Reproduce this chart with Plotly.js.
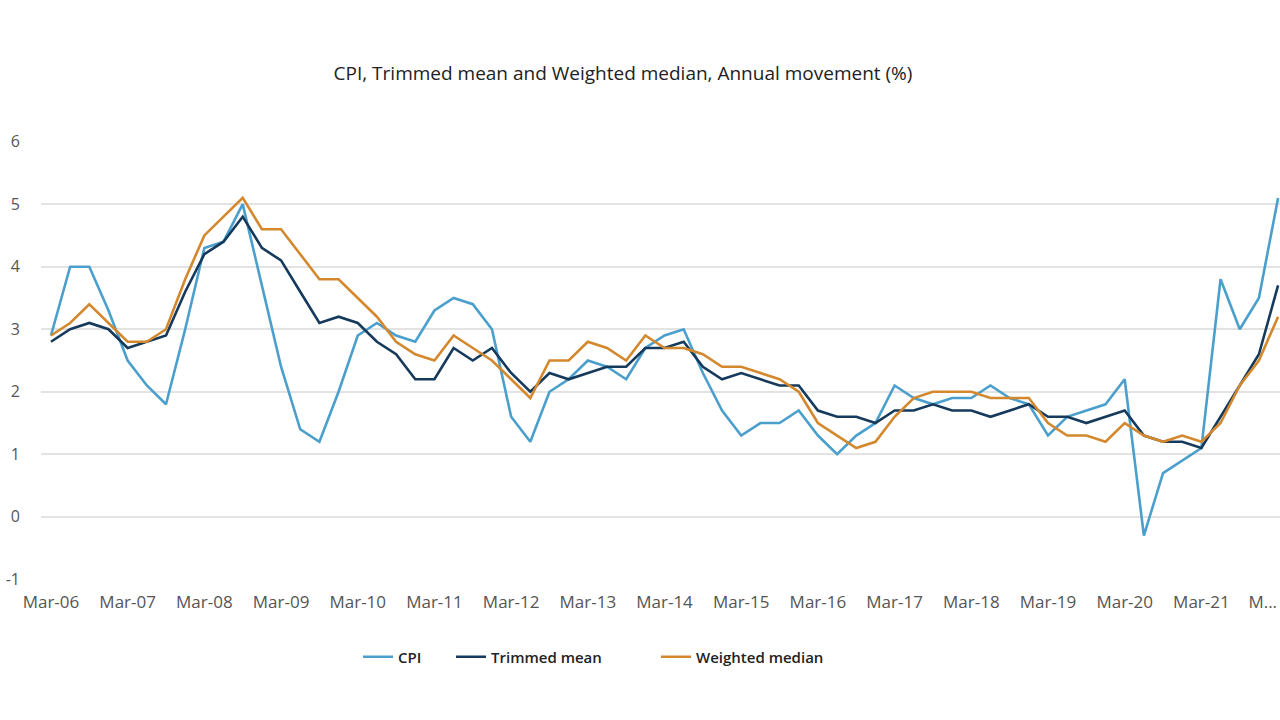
<!DOCTYPE html>
<html>
<head>
<meta charset="utf-8">
<script src="https://cdn.plot.ly/plotly-3.0.1.min.js"></script>
<style>html,body{margin:0;padding:0;background:#fff;}#chart{width:1280px;height:720px;}</style>
</head>
<body>
<div id="chart"></div>
<script>
// Quarters Mar-06 .. Mar-22
const quarters = [
  "Mar-06","Jun-06","Sep-06","Dec-06","Mar-07","Jun-07","Sep-07","Dec-07",
  "Mar-08","Jun-08","Sep-08","Dec-08","Mar-09","Jun-09","Sep-09","Dec-09",
  "Mar-10","Jun-10","Sep-10","Dec-10","Mar-11","Jun-11","Sep-11","Dec-11",
  "Mar-12","Jun-12","Sep-12","Dec-12","Mar-13","Jun-13","Sep-13","Dec-13",
  "Mar-14","Jun-14","Sep-14","Dec-14","Mar-15","Jun-15","Sep-15","Dec-15",
  "Mar-16","Jun-16","Sep-16","Dec-16","Mar-17","Jun-17","Sep-17","Dec-17",
  "Mar-18","Jun-18","Sep-18","Dec-18","Mar-19","Jun-19","Sep-19","Dec-19",
  "Mar-20","Jun-20","Sep-20","Dec-20","Mar-21","Jun-21","Sep-21","Dec-21",
  "Mar-22"
];
const cpi = [
  2.9,4.0,4.0,3.3,2.5,2.1,1.8,3.0,
  4.3,4.4,5.0,3.7,2.4,1.4,1.2,2.0,
  2.9,3.1,2.9,2.8,3.3,3.5,3.4,3.0,
  1.6,1.2,2.0,2.2,2.5,2.4,2.2,2.7,
  2.9,3.0,2.3,1.7,1.3,1.5,1.5,1.7,
  1.3,1.0,1.3,1.5,2.1,1.9,1.8,1.9,
  1.9,2.1,1.9,1.8,1.3,1.6,1.7,1.8,
  2.2,-0.3,0.7,0.9,1.1,3.8,3.0,3.5,
  5.1
];
const trimmedMean = [
  2.8,3.0,3.1,3.0,2.7,2.8,2.9,3.6,
  4.2,4.4,4.8,4.3,4.1,3.6,3.1,3.2,
  3.1,2.8,2.6,2.2,2.2,2.7,2.5,2.7,
  2.3,2.0,2.3,2.2,2.3,2.4,2.4,2.7,
  2.7,2.8,2.4,2.2,2.3,2.2,2.1,2.1,
  1.7,1.6,1.6,1.5,1.7,1.7,1.8,1.7,
  1.7,1.6,1.7,1.8,1.6,1.6,1.5,1.6,
  1.7,1.3,1.2,1.2,1.1,1.6,2.1,2.6,
  3.7
];
const weightedMedian = [
  2.9,3.1,3.4,3.1,2.8,2.8,3.0,3.8,
  4.5,4.8,5.1,4.6,4.6,4.2,3.8,3.8,
  3.5,3.2,2.8,2.6,2.5,2.9,2.7,2.5,
  2.2,1.9,2.5,2.5,2.8,2.7,2.5,2.9,
  2.7,2.7,2.6,2.4,2.4,2.3,2.2,2.0,
  1.5,1.3,1.1,1.2,1.6,1.9,2.0,2.0,
  2.0,1.9,1.9,1.9,1.5,1.3,1.3,1.2,
  1.5,1.3,1.2,1.3,1.2,1.5,2.1,2.5,
  3.2
];
const seriesNames = ["CPI","Trimmed mean","Weighted median"];
const seriesColors = ["#4a9fcc","#163a5c","#d4882e"];
const yTicks = [-1,0,1,2,3,4,5,6];
const yTickText = ["-1","0","1","2","3","4","5","6"];

const idx = quarters.map((q,i)=>i);
const tickVals = [], tickText = [];
quarters.forEach((q,i)=>{ if (i%4===0 && i<64){ tickVals.push(i); tickText.push(q); } });
tickVals.push(63.2); tickText.push("M...");

const FONT = "Open Sans, Noto Sans, sans-serif";
const data = [cpi, trimmedMean, weightedMedian].map((vals,k)=>({
  type:"scatter", mode:"lines", x: idx, y: vals, name: seriesNames[k],
  line:{color: seriesColors[k], width:2.6},
  legend: k===0 ? "legend" : (k===1 ? "legend2" : "legend3"),
  hoverinfo:"x+y"
}));

const legFont = {family: FONT, size: 15, color:"#222", weight: 600};
const legCommon = {orientation:"h", xref:"container", yref:"container", yanchor:"middle", xanchor:"left",
  y: 1-657/720, font: legFont, bgcolor:"rgba(0,0,0,0)", itemwidth:30, tracegroupgap:0};

const layout = {
  width:1280, height:720,
  paper_bgcolor:"#fff", plot_bgcolor:"#fff",
  margin:{l:41, r:0, t:141, b:140},
  title:{text:"CPI, Trimmed mean and Weighted median, Annual movement (%)",
    font:{family:FONT, size:19, color:"#222"}, xref:"container", x:623/1280, xanchor:"center",
    yref:"container", y:1-73/720, yanchor:"middle"},
  xaxis:{range:[-0.52,64.1], tickvals:tickVals, ticktext:tickText, showgrid:false, zeroline:false,
    showline:false, ticks:"", tickangle:0, tickfont:{family:FONT, size:17, color:"#555"},
    ticklabelstandoff:10, ticklabeloverflow:"allow"},
  yaxis:{range:[-1.01,6.01], tickvals:yTicks, ticktext:yTickText, showgrid:true, gridcolor:"#e3e3e3", gridwidth:1.5,
    zeroline:false, showline:false, ticks:"", tickfont:{family:FONT, size:16, color:"#555"}, ticklabelstandoff:20},
  legend: Object.assign({}, legCommon, {x:358/1280}),
  legend2: Object.assign({}, legCommon, {x:451/1280}),
  legend3: Object.assign({}, legCommon, {x:656/1280}),
  showlegend:true
};
Plotly.newPlot("chart", data, layout, {displayModeBar:false, responsive:false});
</script>
</body>
</html>
